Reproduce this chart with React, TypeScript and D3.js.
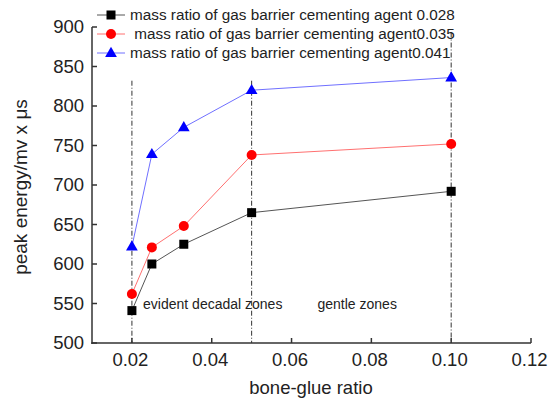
import React from "react";
import * as d3 from "d3";

const xValues = [0.02, 0.025, 0.033, 0.05, 0.1];
const seriesNames = [
  "mass ratio of gas barrier cementing agent 0.028",
  " mass ratio of gas barrier cementing agent0.035",
  "mass ratio of gas barrier cementing agent0.041",
];
const black028 = [541, 600, 625, 665, 692];
const red035 = [562, 621, 648, 738, 752];
const blue041 = [622, 739, 773, 820, 836];
const xTicks = [0.02, 0.04, 0.06, 0.08, 0.1, 0.12];
const xTickLabels = ["0.02", "0.04", "0.06", "0.08", "0.10", "0.12"];
const yTicks = [500, 550, 600, 650, 700, 750, 800, 850, 900];
const refLines = [
  { x: 0.02, top: 832 },
  { x: 0.05, top: 832 },
  { x: 0.1, top: 893 },
];
const annotations = [
  { text: "evident decadal zones", x: 0.0228, y: 543 },
  { text: "gentle zones", x: 0.0665, y: 543 },
];

const W = 557;
const H = 403;
const FONT = "'Liberation Sans', Arial, sans-serif";

export default function App() {
  const x = d3.scaleLinear().domain([0.01, 0.12]).range([92, 531]);
  const y = d3.scaleLinear().domain([500, 900]).range([343, 27]);
  const line = d3
    .line<[number, number]>()
    .x((d) => x(d[0]))
    .y((d) => y(d[1]));

  const series = [
    { name: seriesNames[0], values: black028, color: "#000000", line: "#555555", marker: "square" },
    { name: seriesNames[1], values: red035, color: "#ff0000", line: "#ff7070", marker: "circle" },
    { name: seriesNames[2], values: blue041, color: "#0000ff", line: "#7070ff", marker: "triangle" },
  ];

  const marker = (kind: string, cx: number, cy: number, color: string, key?: any) => {
    if (kind === "square")
      return <rect key={key} x={cx - 4.5} y={cy - 4.5} width={9} height={9} fill={color} />;
    if (kind === "circle") return <circle key={key} cx={cx} cy={cy} r={5} fill={color} />;
    const sym = d3.symbol().type(d3.symbolTriangle).size(60)();
    return <path key={key} d={sym || ""} transform={`translate(${cx},${cy + 0.5})`} fill={color} />;
  };

  return (
    <svg
      width={W}
      height={H}
      style={{ position: "absolute", left: 0, top: 0, background: "#fff" }}
      fontFamily={FONT}
    >
      {refLines.map((r, i) => (
        <line
          key={i}
          x1={x(r.x)}
          x2={x(r.x)}
          y1={y(r.top)}
          y2={343}
          stroke="#333"
          strokeWidth={1}
          strokeDasharray="5,2,1,2"
        />
      ))}
      {series.map((s, i) => (
        <g key={i}>
          <path
            d={line(xValues.map((xv, j) => [xv, s.values[j]]) as [number, number][]) || ""}
            fill="none"
            stroke={s.line}
            strokeWidth={1}
          />
          {xValues.map((xv, j) => marker(s.marker, x(xv), y(s.values[j]), s.color, j))}
        </g>
      ))}
      <line x1={92} x2={92} y1={y(900)} y2={344} stroke="#333" strokeWidth={1.5} />
      <line x1={91.25} x2={x(0.12)} y1={343} y2={343} stroke="#333" strokeWidth={1.5} />
      {yTicks.map((t) => (
        <g key={t}>
          <line x1={92} x2={97} y1={y(t)} y2={y(t)} stroke="#333" strokeWidth={1.5} />
          <text x={84} y={y(t)} dy="0.35em" textAnchor="end" fontSize={18.5} fill="#222">
            {t}
          </text>
        </g>
      ))}
      {xTicks.map((t, i) => (
        <g key={t}>
          <line x1={x(t)} x2={x(t)} y1={343} y2={338} stroke="#333" strokeWidth={1.5} />
          <text x={x(t) - 1.5} y={366} textAnchor="middle" fontSize={18.5} fill="#222">
            {xTickLabels[i]}
          </text>
        </g>
      ))}
      <text x={311} y={394} textAnchor="middle" fontSize={18.5} fill="#222">
        bone-glue ratio
      </text>
      <text
        transform={`translate(27,187) rotate(-90)`}
        textAnchor="middle"
        fontSize={19}
        fill="#222"
      >
        peak energy/mv x μs
      </text>
      {annotations.map((a, i) => (
        <text key={i} x={x(a.x)} y={y(a.y)} fontSize={14} fill="#222">
          {a.text}
        </text>
      ))}
      {series.map((s, i) => {
        const ly = 15 + i * 19;
        return (
          <g key={i}>
            <line x1={97} x2={125} y1={ly} y2={ly} stroke={s.line} strokeWidth={1} />
            {marker(s.marker, 111, ly, s.color)}
            <text x={130} y={ly} dy="0.35em" fontSize={15.3} fill="#222" style={{ whiteSpace: "pre" }}>
              {s.name}
            </text>
          </g>
        );
      })}
    </svg>
  );
}
